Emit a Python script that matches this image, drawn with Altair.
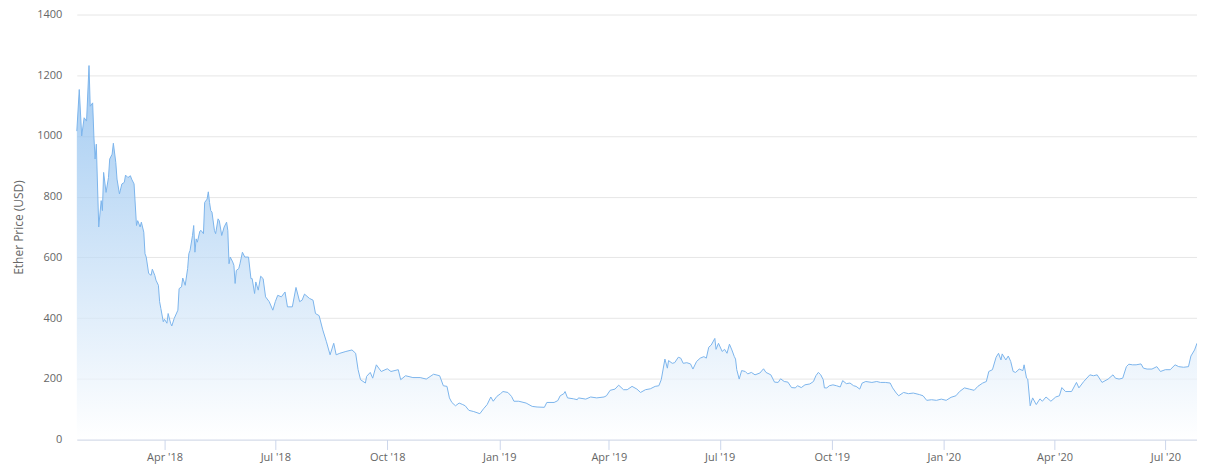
import altair as alt
import pandas as pd

# --- data (daily Ether price, USD) ---
dates_2018 = [
    "2018-01-19", "2018-01-21", "2018-01-23", "2018-01-25", "2018-01-27", "2018-01-29", "2018-01-30",
    "2018-02-01", "2018-02-02", "2018-02-03", "2018-02-04", "2018-02-06", "2018-02-08", "2018-02-09",
    "2018-02-10", "2018-02-12", "2018-02-14", "2018-02-15", "2018-02-17", "2018-02-18", "2018-02-20",
    "2018-02-21", "2018-02-23", "2018-02-25", "2018-02-27", "2018-02-28",
    "2018-03-02", "2018-03-04", "2018-03-05", "2018-03-07", "2018-03-09", "2018-03-10", "2018-03-12",
    "2018-03-13", "2018-03-15", "2018-03-16", "2018-03-17", "2018-03-19", "2018-03-21", "2018-03-22",
    "2018-03-24", "2018-03-25", "2018-03-27", "2018-03-28", "2018-03-29", "2018-03-31",
    "2018-04-01", "2018-04-03", "2018-04-04", "2018-04-06", "2018-04-07", "2018-04-09", "2018-04-12",
    "2018-04-13", "2018-04-15", "2018-04-16", "2018-04-18", "2018-04-20", "2018-04-21", "2018-04-22",
    "2018-04-24", "2018-04-25", "2018-04-26", "2018-04-27", "2018-04-28", "2018-04-30",
    "2018-05-01", "2018-05-03", "2018-05-04", "2018-05-06", "2018-05-07", "2018-05-08", "2018-05-09",
    "2018-05-10", "2018-05-12", "2018-05-13", "2018-05-15", "2018-05-16", "2018-05-18", "2018-05-20",
    "2018-05-22", "2018-05-23", "2018-05-24", "2018-05-25", "2018-05-27", "2018-05-28", "2018-05-29",
    "2018-05-30",
    "2018-06-01", "2018-06-02", "2018-06-04", "2018-06-06", "2018-06-09", "2018-06-11", "2018-06-12",
    "2018-06-14", "2018-06-15", "2018-06-17", "2018-06-19", "2018-06-21", "2018-06-23", "2018-06-26",
    "2018-06-29",
    "2018-07-01", "2018-07-03", "2018-07-06", "2018-07-09", "2018-07-11", "2018-07-15", "2018-07-18",
    "2018-07-21", "2018-07-23", "2018-07-25", "2018-07-29",
    "2018-08-01", "2018-08-03", "2018-08-06", "2018-08-09", "2018-08-12", "2018-08-15", "2018-08-18",
    "2018-08-20", "2018-08-23", "2018-08-28",
    "2018-09-02", "2018-09-05", "2018-09-07", "2018-09-09", "2018-09-13", "2018-09-14", "2018-09-17",
    "2018-09-19", "2018-09-22", "2018-09-26",
    "2018-10-01", "2018-10-04", "2018-10-10", "2018-10-12", "2018-10-16", "2018-10-22", "2018-10-28",
    "2018-11-02", "2018-11-08", "2018-11-13", "2018-11-16", "2018-11-19", "2018-11-21", "2018-11-23",
    "2018-11-26", "2018-11-29",
    "2018-12-02", "2018-12-04", "2018-12-07", "2018-12-11", "2018-12-16", "2018-12-19", "2018-12-22",
    "2018-12-25", "2018-12-27", "2018-12-30",
]
prices_2018 = [
    1016, 1153, 1000, 1060, 1049, 1232, 1098,
    1109, 1000, 924, 973, 700, 787, 754,
    880, 814, 863, 924, 940, 976, 913,
    858, 809, 842, 847, 871,
    863, 869, 858, 842, 705, 721, 700,
    716, 683, 612, 601, 547, 541, 561,
    541, 525, 508, 454, 432, 388,
    396, 383, 415, 383, 374, 399, 426,
    497, 503, 532, 508, 563, 612, 623,
    672, 705, 617, 661, 650, 686,
    689, 678, 781, 792, 816, 781, 754,
    749, 689, 678, 727, 721, 672, 700,
    716, 689, 579, 601, 585, 574, 514,
    557,
    563, 579, 617, 601, 601, 530, 530,
    481, 519, 492, 538, 530, 470, 454,
    426,
    454, 475, 470, 486, 437, 437, 501,
    454, 459, 479, 465,
    459, 415, 408, 361, 322, 279, 317,
    279, 284, 290,
    295, 284, 230, 197, 186, 208, 221,
    202, 246, 224,
    233, 224, 230, 197, 210, 204, 204,
    199, 215, 210, 177, 175, 137, 122,
    111, 120,
    115, 111, 96, 92, 85, 101, 115,
    140, 126, 142,
]

dates_2019 = [
    "2019-01-02", "2019-01-04", "2019-01-08", "2019-01-11", "2019-01-13", "2019-01-17", "2019-01-23",
    "2019-01-28",
    "2019-02-01", "2019-02-07", "2019-02-09", "2019-02-15", "2019-02-18", "2019-02-20", "2019-02-23",
    "2019-02-24", "2019-02-26",
    "2019-03-03", "2019-03-06", "2019-03-07", "2019-03-13", "2019-03-17", "2019-03-22", "2019-03-28",
    "2019-03-30",
    "2019-04-02", "2019-04-06", "2019-04-09", "2019-04-13", "2019-04-16", "2019-04-20", "2019-04-24",
    "2019-04-27",
    "2019-05-01", "2019-05-05", "2019-05-09", "2019-05-12", "2019-05-14", "2019-05-17", "2019-05-19",
    "2019-05-20", "2019-05-23", "2019-05-25", "2019-05-28", "2019-05-30",
    "2019-06-01", "2019-06-04", "2019-06-07", "2019-06-09", "2019-06-12", "2019-06-15", "2019-06-18",
    "2019-06-20", "2019-06-22", "2019-06-24", "2019-06-27", "2019-06-28", "2019-06-30",
    "2019-07-03", "2019-07-05", "2019-07-07", "2019-07-09", "2019-07-11", "2019-07-13", "2019-07-14",
    "2019-07-15", "2019-07-17", "2019-07-19", "2019-07-22", "2019-07-24", "2019-07-27", "2019-07-30",
    "2019-08-03", "2019-08-06", "2019-08-08", "2019-08-12", "2019-08-15", "2019-08-18", "2019-08-20",
    "2019-08-23", "2019-08-26", "2019-08-29",
    "2019-09-01", "2019-09-03", "2019-09-06", "2019-09-09", "2019-09-13", "2019-09-16", "2019-09-18",
    "2019-09-20", "2019-09-22", "2019-09-24", "2019-09-25", "2019-09-27", "2019-09-29",
    "2019-10-02", "2019-10-05", "2019-10-08", "2019-10-10", "2019-10-13", "2019-10-16", "2019-10-19",
    "2019-10-21", "2019-10-24", "2019-10-26", "2019-10-29",
    "2019-11-03", "2019-11-07", "2019-11-10", "2019-11-14", "2019-11-18", "2019-11-20", "2019-11-23",
    "2019-11-25", "2019-11-29",
    "2019-12-03", "2019-12-07", "2019-12-12", "2019-12-15", "2019-12-18", "2019-12-22", "2019-12-26",
    "2019-12-30",
]
prices_2019 = [
    151, 158, 155, 142, 126, 126, 120,
    109,
    107, 106, 122, 122, 128, 144, 151,
    158, 137,
    134, 131, 137, 133, 140, 137, 140,
    144,
    162, 166, 179, 164, 164, 175, 166,
    155,
    164, 167, 175, 177, 197, 265, 235,
    260, 251, 253, 271, 268,
    251, 253, 249, 232, 257, 268, 273,
    268, 304, 311, 333, 297, 317,
    290, 297, 284, 314, 295, 273, 265,
    230, 199, 227, 224, 216, 221, 213,
    219, 233, 221, 213, 189, 188, 200,
    191, 189, 171,
    170, 177, 171, 180, 183, 191, 210,
    221, 213, 197, 170, 170, 177,
    180, 177, 173, 194, 184, 186, 177,
    175, 166, 186, 191,
    188, 191, 188, 188, 186, 170, 153,
    144, 155,
    151, 153, 148, 144, 129, 131, 129,
    133,
]

dates_2020 = [
    "2020-01-03", "2020-01-07", "2020-01-11", "2020-01-14", "2020-01-18", "2020-01-22", "2020-01-26",
    "2020-01-29",
    "2020-02-02", "2020-02-05", "2020-02-07", "2020-02-10", "2020-02-13", "2020-02-15", "2020-02-17",
    "2020-02-18", "2020-02-21", "2020-02-23", "2020-02-25", "2020-02-27", "2020-02-29",
    "2020-03-03", "2020-03-06", "2020-03-07", "2020-03-09", "2020-03-10", "2020-03-12", "2020-03-14",
    "2020-03-17", "2020-03-20", "2020-03-22", "2020-03-25", "2020-03-29",
    "2020-04-02", "2020-04-05", "2020-04-07", "2020-04-10", "2020-04-15", "2020-04-19", "2020-04-21",
    "2020-04-25", "2020-04-30",
    "2020-05-03", "2020-05-06", "2020-05-10", "2020-05-15", "2020-05-19", "2020-05-21", "2020-05-24",
    "2020-05-27", "2020-05-30",
    "2020-06-01", "2020-06-04", "2020-06-07", "2020-06-11", "2020-06-13", "2020-06-16", "2020-06-20",
    "2020-06-24", "2020-06-27",
    "2020-07-01", "2020-07-05", "2020-07-09", "2020-07-12", "2020-07-16", "2020-07-20", "2020-07-22",
    "2020-07-25", "2020-07-27",
]
prices_2020 = [
    129, 139, 144, 158, 170, 166, 162,
    175,
    186, 191, 224, 230, 271, 284, 262,
    282, 262, 275, 257, 224, 221,
    232, 227, 246, 202, 199, 111, 137,
    115, 134, 126, 140, 126,
    140, 144, 171, 158, 158, 188, 170,
    191, 213,
    210, 213, 188, 199, 213, 202, 199,
    202, 240,
    248, 246, 246, 249, 235, 232, 232,
    240, 224,
    230, 230, 246, 240, 238, 240, 275,
    295, 317,
]

y_ticks = [0, 200, 400, 600, 800, 1000, 1200, 1400]
x_tick_dates = [
    (2018, 4), (2018, 7), (2018, 10), (2019, 1), (2019, 4), (2019, 7),
    (2019, 10), (2020, 1), (2020, 4), (2020, 7),
]
y_title = "Ether Price (USD)"

df = pd.DataFrame({
    "date": dates_2018 + dates_2019 + dates_2020,
    "price": prices_2018 + prices_2019 + prices_2020,
})

FONT = "Open Sans"
LABEL = "#666666"

x_axis = alt.Axis(
    values=[alt.DateTime(year=y, month=m, date=1, utc=True) for y, m in x_tick_dates],
    format="%b '%y",
    grid=False,
    domainColor="#ccd6eb",
    tickColor="#ccd6eb",
    tickSize=10,
    labelPadding=2,
    labelFont=FONT,
    labelFontSize=11,
    labelColor=LABEL,
    title=None,
)
y_axis = alt.Axis(
    values=y_ticks,
    format="d",
    domain=False,
    ticks=False,
    gridColor="#e6e6e6",
    labelPadding=15,
    labelFont=FONT,
    labelFontSize=11,
    labelColor=LABEL,
    title=y_title,
    titleFont=FONT,
    titleFontSize=12,
    titleFontWeight="normal",
    titleColor=LABEL,
    titlePadding=11,
)

chart = (
    alt.Chart(df)
    .mark_area(
        line={"color": "#7cb5ec", "strokeWidth": 1},
        color=alt.Gradient(
            gradient="linear",
            stops=[
                alt.GradientStop(color="#ffffff", offset=0),
                alt.GradientStop(color="#7cb5ec", offset=1),
            ],
            x1=1, x2=1, y1=1, y2=0,
        ),
    )
    .encode(
        x=alt.X("date:T", scale=alt.Scale(type="utc", nice=False), axis=x_axis),
        y=alt.Y("price:Q", scale=alt.Scale(domain=[0, 1400], nice=False), axis=y_axis),
    )
    .properties(
        width=1123,
        height=426,
        autosize=alt.AutoSizeParams(type="none"),
        padding={"left": 69, "top": 6, "right": 0, "bottom": 25},
    )
    .configure_view(stroke=None)
)

chart.save("out.html", embed_options={"renderer": "svg", "actions": False})
